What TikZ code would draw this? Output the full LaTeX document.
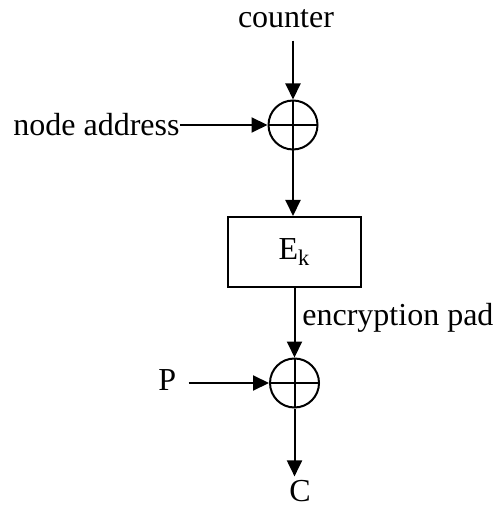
\documentclass[tikz,border=0pt]{standalone}
\usepackage{fontspec}
\setmainfont{Liberation Serif}
\usetikzlibrary{arrows.meta}
\begin{document}
\begin{tikzpicture}[x=0.5pt,y=-0.5pt,
  every node/.style={font=\fontsize{16}{19}\selectfont},
  lbl/.style={inner sep=0pt},
  xorop/.style={circle,draw,line width=1pt,minimum size=24.5pt,inner sep=0pt,
    path picture={\draw[line width=1pt] (path picture bounding box.north) -- (path picture bounding box.south)
      (path picture bounding box.west) -- (path picture bounding box.east);}},
  enc/.style={draw,line width=1pt,minimum width=66.5pt,minimum height=35pt,inner sep=0pt},
  arr/.style={line width=1pt,-{Triangle[length=8pt,width=7.5pt]}},
  ln/.style={line width=1pt}]
\useasboundingbox (0,0) rectangle (494,506);
\node[lbl,anchor=base] (counter) at (286,28) {counter};
\node[xorop] (x1) at (293,125) {};
\node[lbl,anchor=base west] (addr) at (13,136) {node address};
\node[enc] (ek) at (294.5,252) {E\textsubscript{k}};
\node[xorop] (x2) at (294.5,383) {};
\node[lbl,anchor=base west] (pad) at (302,325) {encryption pad};
\node[lbl,anchor=base west] (p) at (158,390) {P};
\node[lbl,anchor=base west] (c) at (289,501) {C};
\draw[arr] (counter.south -| x1.north) ++(0,12) coordinate (cs) (cs) -- (x1.north);
\draw[arr] (addr.east |- x1.west) -- (x1.west);
\draw[arr] (x1.south) -- (x1.south |- ek.north);
\draw[arr] (ek.south -| x2.north) -- (x2.north);
\draw[arr] ([xshift=6pt]p.east |- x2.west) -- (x2.west);
\draw[arr] (x2.south) -- ([yshift=1.5pt]x2.south |- c.north);
\end{tikzpicture}
\end{document}
